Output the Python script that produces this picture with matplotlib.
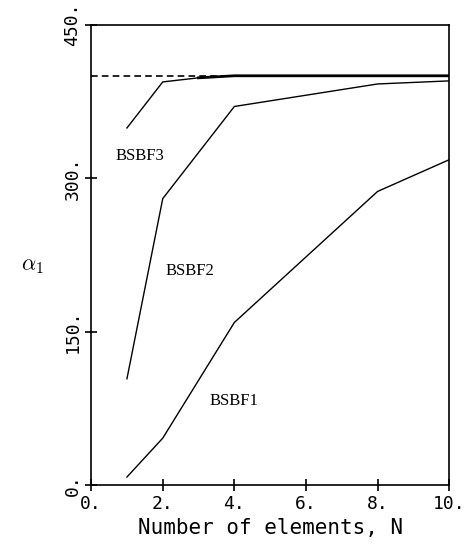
import matplotlib
matplotlib.use("Agg")
import matplotlib.pyplot as plt

plt.rcParams["mathtext.fontset"] = "cm"

N1 = [1, 2, 4, 8, 10]
bsbf1 = [8, 46, 159, 287, 318]
N2 = [1, 2, 4, 8, 10]
bsbf2 = [104, 280, 370, 392, 395]
N3 = [1, 2, 3, 4, 8, 10]
bsbf3 = [349, 394, 398, 400, 400, 400]
exact_x = [0, 10]
exact_y = [400, 400]

xticks = [0, 2, 4, 6, 8, 10]
xticklabels = ["0.", "2.", "4.", "6.", "8.", "10."]
yticks = [0, 150, 300, 450]
yticklabels = ["0.", "150.", "300.", "450."]

fig = plt.figure(figsize=(4.65, 5.59), dpi=100)
ax = fig.add_axes([0.196, 0.132, 0.770, 0.824])

ax.plot(exact_x, exact_y, color="black", lw=1.2, ls=(0, (4, 2.5)))
ax.plot(N1, bsbf1, color="black", lw=1.0)
ax.plot(N2, bsbf2, color="black", lw=1.0)
ax.plot(N3, bsbf3, color="black", lw=1.0)
ax.plot(N3[2:], bsbf3[2:], color="black", lw=2.0)

ax.set_xlim(0, 10)
ax.set_ylim(0, 450)
ax.set_xticks(xticks)
ax.set_xticklabels(xticklabels, family="DejaVu Sans Mono", fontsize=13)
ax.set_yticks(yticks)
ax.set_yticklabels(yticklabels, family="DejaVu Sans Mono", fontsize=13,
                   rotation=90, va="center")
ax.tick_params(direction="inout", length=8, width=1.2, pad=3)
for s in ax.spines.values():
    s.set_linewidth(1.2)

ax.set_xlabel("Number of elements, N", family="DejaVu Sans Mono", fontsize=15, labelpad=4)
fig.text(0.07, 0.525, r"$\alpha_1$", fontsize=16, ha="center", va="center")

ax.text(0.67, 322, "BSBF3", family="Liberation Serif", fontsize=12, va="center")
ax.text(2.07, 209, "BSBF2", family="Liberation Serif", fontsize=12, va="center")
ax.text(3.3, 82, "BSBF1", family="Liberation Serif", fontsize=12, va="center")

fig.savefig("out.png", dpi=100)
